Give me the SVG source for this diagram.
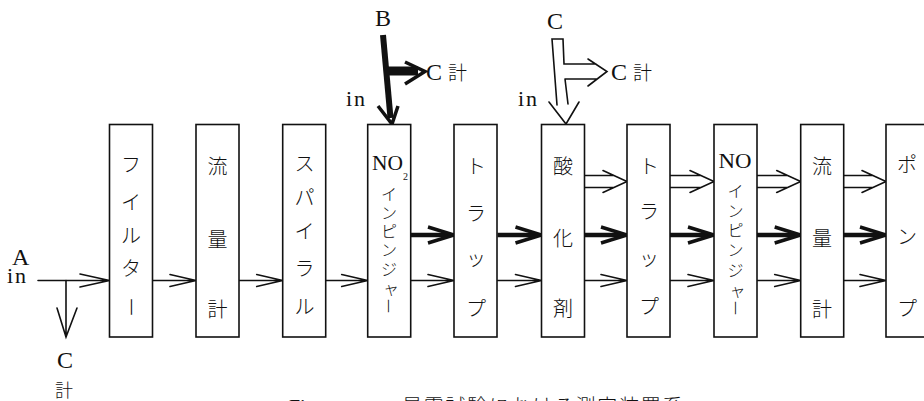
<svg xmlns="http://www.w3.org/2000/svg" xmlns:xlink="http://www.w3.org/1999/xlink" width="924" height="401" viewBox="0 0 924 401">
<style>
.box{fill:#fff;stroke:#111;stroke-width:1.6}
.ln{fill:none;stroke:#111;stroke-width:1.6;stroke-linecap:round;stroke-linejoin:miter}
.lat{font-family:"Liberation Serif","DejaVu Serif",serif;fill:#111}
.jp{font-family:"Noto Sans CJK JP","Noto Sans CJK SC",sans-serif;fill:#111;font-size:20px;text-anchor:middle;dominant-baseline:central;font-weight:300}
.js{font-family:"Noto Sans CJK JP","Noto Sans CJK SC",sans-serif;fill:#111;font-size:16px;text-anchor:middle;dominant-baseline:central;font-weight:300}
.jl{font-family:"Noto Sans CJK JP","Noto Sans CJK SC",sans-serif;fill:#111;font-weight:300}
</style>
<defs>
<g id="ta"><path class="ln" d="M-44,0 H0 M-26,-6 L0,0 L-26,6"/></g>
<g id="tk"><path fill="none" stroke="#111" stroke-width="4.5" d="M-44,0 H-5"/><path fill="none" stroke="#111" stroke-width="3.5" d="M-26,-8 L0,0 L-26,8"/></g>
<g id="ho"><path class="ln" d="M-44,-6 H-13 M-44,6 H-13 M-24,-11 L0,0 L-24,11"/></g>
</defs>
<rect width="924" height="401" fill="#fff"/>

<g id="connectors">
  <path class="ln" d="M38,280.5 H109.5 M80,274 L109.5,280.5 L80,287"/>
  <path class="ln" d="M66,280.5 V337 M57,308 L66,337 L77,308"/>
  <use xlink:href="#ta" x="196" y="280.5"/>
  <use xlink:href="#ta" x="282.7" y="280.5"/>
  <use xlink:href="#ta" x="367.7" y="280.5"/>
  <use xlink:href="#ta" x="454" y="280.5"/>
  <use xlink:href="#ta" x="541.5" y="280.5"/>
  <use xlink:href="#ta" x="627" y="280.5"/>
  <use xlink:href="#ta" x="714" y="280.5"/>
  <use xlink:href="#ta" x="800.7" y="280.5"/>
  <use xlink:href="#ta" x="886" y="280.5"/>
  <use xlink:href="#tk" x="454" y="235"/>
  <use xlink:href="#tk" x="541.5" y="235"/>
  <use xlink:href="#tk" x="627" y="235"/>
  <use xlink:href="#tk" x="714" y="235"/>
  <use xlink:href="#tk" x="800.7" y="235"/>
  <use xlink:href="#tk" x="886" y="235"/>
  <use xlink:href="#ho" x="627" y="181.5"/>
  <use xlink:href="#ho" x="714" y="181.5"/>
  <use xlink:href="#ho" x="800.7" y="181.5"/>
  <use xlink:href="#ho" x="886" y="181.5"/>
  <path fill="none" stroke="#111" stroke-width="6" d="M383,35 L390.5,118"/>
  <path fill="none" stroke="#111" stroke-width="3.5" d="M378,106 L392,124 L398,106"/>
  <path fill="none" stroke="#111" stroke-width="9" d="M387,71 H418"/>
  <path fill="none" stroke="#111" stroke-width="3.5" d="M405,62 L425,71.5 L405,84"/>
  <path class="ln" d="M557,105 L552,39 H563 L564,64 H596 M565,79 H597 M565,79 L568,104 M588,59 L607,71.5 L588,86 M549,102 L566,124 L579,102"/>
</g>

<g id="n1"><rect class="box" x="109.5" y="124.5" width="43" height="212.5"/>
<text class="jp" x="131" y="163">フ</text><text class="jp" x="131" y="201">イ</text><text class="jp" x="131" y="234">ル</text><text class="jp" x="131" y="267">タ</text><text class="jp" transform="translate(131,307) rotate(90)">ー</text></g>
<g id="n2"><rect class="box" x="196" y="124.5" width="43" height="212.5"/>
<text class="jp" x="217.5" y="165">流</text><text class="jp" x="217.5" y="238">量</text><text class="jp" x="217.5" y="308">計</text></g>
<g id="n3"><rect class="box" x="282.7" y="124.5" width="43" height="212.5"/>
<text class="jp" x="304.5" y="162">ス</text><text class="jp" x="304.5" y="196">パ</text><text class="jp" x="304.5" y="230">イ</text><text class="jp" x="304.5" y="267">ラ</text><text class="jp" x="304.5" y="305">ル</text></g>
<g id="n4"><rect class="box" x="367.7" y="124.5" width="43" height="212.5"/>
<text class="lat" x="372" y="170" font-size="21" textLength="31" lengthAdjust="spacingAndGlyphs">NO</text><text class="lat" x="403" y="180" font-size="10">2</text>
<text class="js" x="389" y="193">イ</text><text class="js" x="389" y="212">ン</text><text class="js" x="389" y="230">ピ</text><text class="js" x="389" y="249">ン</text><text class="js" x="389" y="268">ジ</text><text class="js" x="391" y="287">ャ</text><text class="js" transform="translate(389,306) rotate(90)">ー</text></g>
<g id="n5"><rect class="box" x="454" y="124.5" width="43" height="212.5"/>
<text class="jp" x="476" y="165">ト</text><text class="jp" x="476" y="212">ラ</text><text class="jp" x="476" y="257">ッ</text><text class="jp" x="476" y="307">プ</text></g>
<g id="n6"><rect class="box" x="541.5" y="124.5" width="43" height="212.5"/>
<text class="jp" x="563" y="165">酸</text><text class="jp" x="563" y="237">化</text><text class="jp" x="563" y="307">剤</text></g>
<g id="n7"><rect class="box" x="627" y="124.5" width="43" height="212.5"/>
<text class="jp" x="649" y="165">ト</text><text class="jp" x="649" y="210">ラ</text><text class="jp" x="649" y="257">ッ</text><text class="jp" x="649" y="305">プ</text></g>
<g id="n8"><rect class="box" x="714" y="124.5" width="43" height="212.5"/>
<text class="lat" x="718.5" y="168" font-size="21" textLength="33" lengthAdjust="spacingAndGlyphs">NO</text>
<text class="js" x="735.5" y="190">イ</text><text class="js" x="735.5" y="210">ン</text><text class="js" x="735.5" y="229">ピ</text><text class="js" x="735.5" y="249">ン</text><text class="js" x="735.5" y="269">ジ</text><text class="js" x="737.5" y="289">ャ</text><text class="js" transform="translate(735.5,308) rotate(90)">ー</text></g>
<g id="n9"><rect class="box" x="800.7" y="124.5" width="43" height="212.5"/>
<text class="jp" x="822" y="165">流</text><text class="jp" x="822" y="237">量</text><text class="jp" x="822" y="308">計</text></g>
<g id="n10"><rect class="box" x="886" y="124.5" width="43" height="212.5"/>
<text class="jp" x="907" y="163">ポ</text><text class="jp" x="907" y="235">ン</text><text class="jp" x="907" y="307">プ</text></g>

<g id="labels">
<text class="lat" x="375" y="26" font-size="24">B</text>
<text class="lat" x="426" y="80" font-size="24">C</text><text class="jl" x="448" y="80" font-size="19">計</text>
<text class="lat" x="346" y="106" font-size="22" letter-spacing="2">in</text>
<text class="lat" x="547" y="29" font-size="24">C</text>
<text class="lat" x="611" y="80" font-size="24">C</text><text class="jl" x="633" y="80" font-size="19">計</text>
<text class="lat" x="518" y="106" font-size="22" letter-spacing="2">in</text>
<text class="lat" x="12" y="265" font-size="24">A</text>
<text class="lat" x="7" y="283" font-size="22" letter-spacing="2">in</text>
<text class="lat" x="57" y="368" font-size="24">C</text>
<text class="jl" x="55" y="397" font-size="18">計</text>
<text class="lat" x="289" y="414" font-size="20">Fig.</text>
<text class="jl" x="402" y="414" font-size="20" letter-spacing="1.7">暴露試験における測定装置系</text>
</g>
</svg>
